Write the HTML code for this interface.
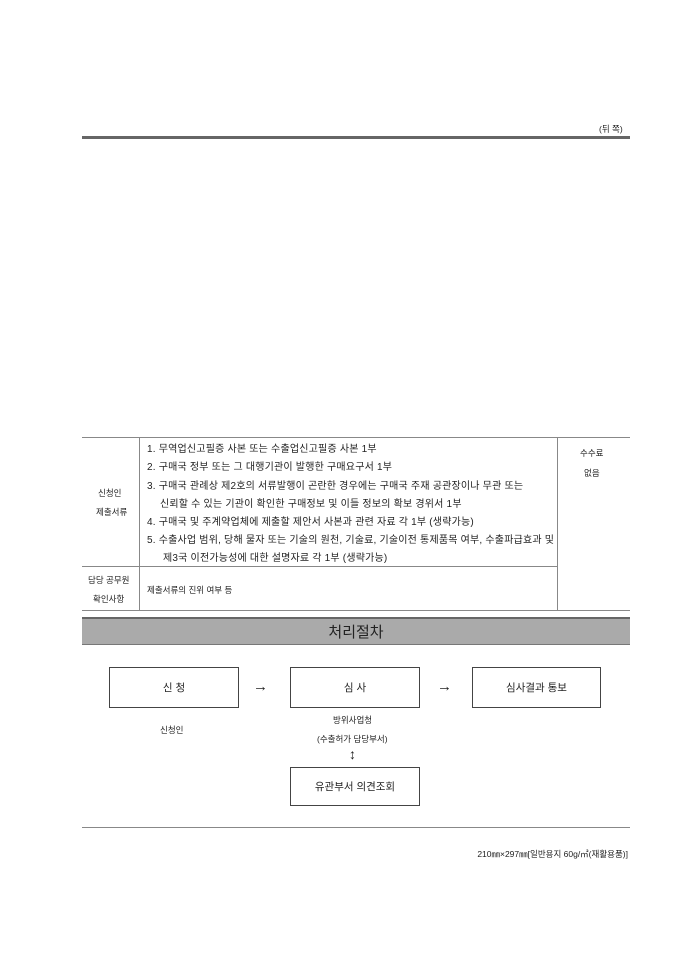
<html><head><style>
body{margin:0;width:680px;height:962px;background:#fff;position:relative;font-family:"Liberation Sans","Noto Sans CJK KR","NanumGothic",sans-serif;color:#222;}
.a{position:absolute;white-space:nowrap;font-size:8.5px;}
.t{font-size:10px;letter-spacing:0.2px;}
.l{position:absolute;background:#888;}
.box{position:absolute;border:1px solid #444;box-sizing:border-box;display:flex;align-items:center;justify-content:center;font-size:10.5px;}
</style></head><body>
<div class="a" style="left:599px;top:123px;">(뒤 쪽)</div>
<div class="l" style="left:82px;top:136px;width:548px;height:3px;background:#666"></div>

<div class="l" style="left:82px;top:437px;width:548px;height:1px;"></div>
<div class="l" style="left:139px;top:437px;width:1px;height:174px;"></div>
<div class="l" style="left:557px;top:437px;width:1px;height:174px;"></div>
<div class="l" style="left:82px;top:566px;width:476px;height:1px;"></div>
<div class="l" style="left:82px;top:610px;width:548px;height:1px;"></div>

<div class="a" style="left:98px;top:487px;">신청인</div>
<div class="a" style="left:96px;top:506px;">제출서류</div>
<div class="a t" style="left:147px;top:440px;">1. 무역업신고필증 사본 또는 수출업신고필증 사본 1부</div>
<div class="a t" style="left:147px;top:458px;">2. 구매국 정부 또는 그 대행기관이 발행한 구매요구서 1부</div>
<div class="a t" style="left:147px;top:477px;">3. 구매국 관례상 제2호의 서류발행이 곤란한 경우에는 구매국 주재 공관장이나 무관 또는</div>
<div class="a t" style="left:160px;top:495px;">신뢰할 수 있는 기관이 확인한 구매정보 및 이들 정보의 확보 경위서 1부</div>
<div class="a t" style="left:147px;top:513px;">4. 구매국 및 주계약업체에 제출할 제안서 사본과 관련 자료 각 1부 (생략가능)</div>
<div class="a t" style="left:147px;top:531px;">5. 수출사업 범위, 당해 물자 또는 기술의 원천, 기술료, 기술이전 통제품목 여부, 수출파급효과 및</div>
<div class="a t" style="left:163px;top:549px;">제3국 이전가능성에 대한 설명자료 각 1부 (생략가능)</div>
<div class="a" style="left:580px;top:447px;">수수료</div>
<div class="a" style="left:584px;top:467px;">없음</div>
<div class="a" style="left:88px;top:574px;">담당 공무원</div>
<div class="a" style="left:93px;top:593px;">확인사항</div>
<div class="a" style="left:147px;top:584px;">제출서류의 진위 여부 등</div>

<div class="l" style="left:82px;top:617px;width:548px;height:28px;background:#aaa;border-top:2px solid #666;border-bottom:1px solid #777;box-sizing:border-box"></div>
<div class="a" style="left:82px;top:621px;width:548px;text-align:center;font-size:15px;">처리절차</div>

<div class="box" style="left:109px;top:667px;width:130px;height:41px;">신 청</div>
<div class="box" style="left:290px;top:667px;width:130px;height:41px;">심 사</div>
<div class="box" style="left:472px;top:667px;width:129px;height:41px;">심사결과 통보</div>
<div class="a" style="left:253px;top:678px;font-size:15px;">→</div>
<div class="a" style="left:437px;top:678px;font-size:15px;">→</div>
<div class="a" style="left:160px;top:724px;">신청인</div>
<div class="a" style="left:333px;top:714px;">방위사업청</div>
<div class="a" style="left:317px;top:733px;">(수출허가 담당부서)</div>
<div class="a" style="left:349px;top:746px;font-size:14px;">↕</div>
<div class="box" style="left:290px;top:767px;width:130px;height:39px;">유관부서 의견조회</div>
<div class="l" style="left:82px;top:827px;width:548px;height:1px;"></div>
<div class="a" style="right:52px;top:848px;">210㎜×297㎜[일반용지 60g/㎡(재활용품)]</div>
</body></html>
